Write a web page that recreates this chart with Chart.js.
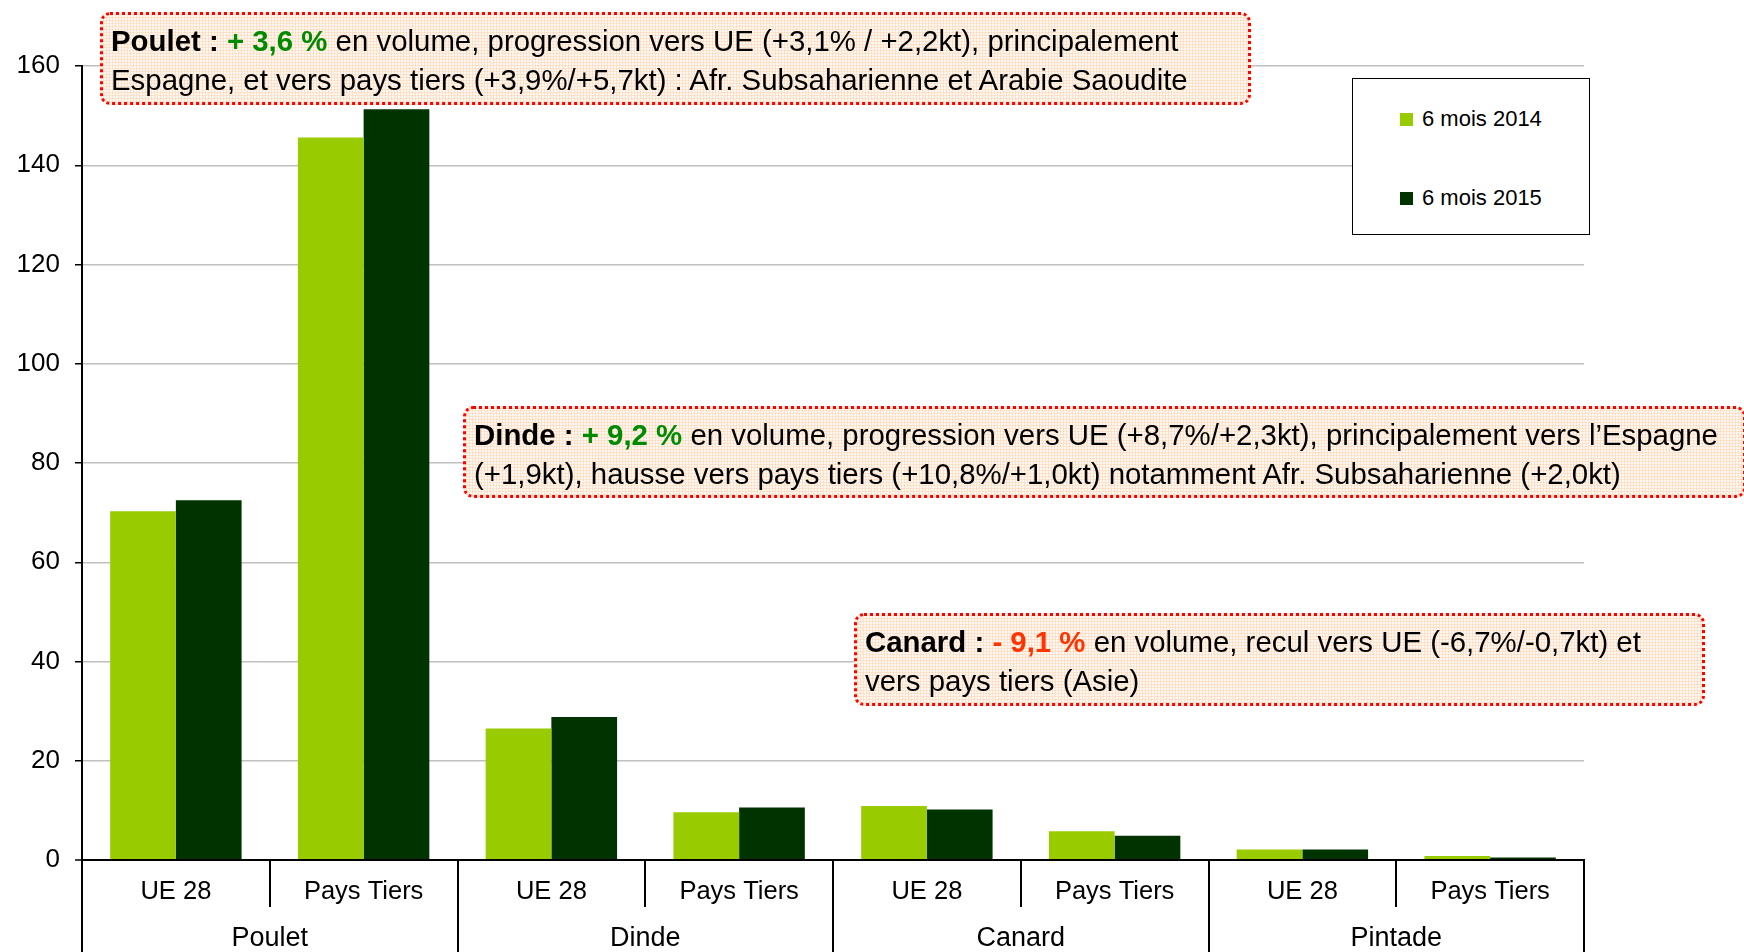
<!DOCTYPE html>
<html lang="fr">
<head>
<meta charset="utf-8">
<title>Exportations de volailles - 6 mois 2014 / 6 mois 2015</title>
<script src="https://cdn.jsdelivr.net/npm/chart.js@4.4.1/dist/chart.umd.min.js"></script>
<style>
  body { margin: 0; background: #fff; font-family: "Liberation Sans", Arial, sans-serif; }
  #wrap { position: relative; width: 1744px; height: 952px; overflow: hidden; }
  canvas { position: absolute; left: 0; top: 0; }
  .note {
    position: absolute;
    box-sizing: border-box;
    border: 3px dotted #ff0000;
    border-radius: 10px;
    background-color: #fff7ef;
    background-image:
      repeating-linear-gradient(0deg, rgba(248, 196, 150, 0.35) 0 1px, transparent 1px 3px),
      repeating-linear-gradient(90deg, rgba(248, 196, 150, 0.35) 0 1px, transparent 1px 3px);
    font-size: 29.4px;
    line-height: 39px;
    color: #000;
    white-space: nowrap;
    padding: 6px 8px;
  }
  .up { color: #008a00; font-weight: bold; }
  .down { color: #ff3300; font-weight: bold; }
  #legend {
    position: absolute;
    left: 1352px;
    top: 78px;
    width: 238px;
    height: 157px;
    box-sizing: border-box;
    border: 1.5px solid #000;
    background: #fff;
    font-size: 22px;
  }
  #legend .item { position: absolute; left: 47px; height: 24px; line-height: 24px; }
  #legend .swatch { display: inline-block; width: 13px; height: 13px; margin-right: 9px; vertical-align: 0; }
</style>
</head>
<body>
<div id="wrap">
  <canvas id="chart" width="1744" height="952"></canvas>

  <div class="note" style="left:100px; top:12px; width:1151px; height:93px;">
    <b>Poulet : </b><span class="up">+ 3,6 %</span> en volume, progression vers UE (+3,1% / +2,2kt), principalement<br>
    Espagne, et vers pays tiers (+3,9%/+5,7kt) : Afr. Subsaharienne et Arabie Saoudite
  </div>
  <div class="note" style="left:463px; top:406px; width:1283px; height:92px;">
    <b>Dinde : </b><span class="up">+ 9,2 %</span> en volume, progression vers UE (+8,7%/+2,3kt), principalement vers l’Espagne<br>
    (+1,9kt), hausse vers pays tiers (+10,8%/+1,0kt) notamment Afr. Subsaharienne (+2,0kt)
  </div>
  <div class="note" style="left:854px; top:613px; width:851px; height:93px;">
    <b>Canard : </b><span class="down">- 9,1 %</span> en volume, recul vers UE (-6,7%/-0,7kt) et<br>
    vers pays tiers (Asie)
  </div>

  <div id="legend"></div>
</div>

<script>
const categories = ["UE 28", "Pays Tiers", "UE 28", "Pays Tiers", "UE 28", "Pays Tiers", "UE 28", "Pays Tiers"];
const groups = ["Poulet", "Dinde", "Canard", "Pintade"];
const series2014 = [70.3, 145.6, 26.5, 9.6, 10.9, 5.8, 2.1, 0.8];
const series2015 = [72.5, 151.3, 28.8, 10.6, 10.2, 4.9, 2.1, 0.5];
const seriesLabels = ["6 mois 2014", "6 mois 2015"];
const seriesColors = ["#99cc00", "#003300"];

Chart.defaults.font.family = "'Liberation Sans', Arial, sans-serif";
Chart.defaults.color = "#000";

// vertical separators under the category axis: short ones inside a group,
// long ones between groups
const separatorPlugin = {
  id: "separators",
  afterDraw(chart) {
    const x = chart.scales.x;
    const ctx = chart.ctx;
    const bottom = chart.chartArea.bottom;
    ctx.save();
    ctx.strokeStyle = "#000";
    ctx.lineWidth = 2;
    for (let i = 0; i <= categories.length; i++) {
      const px = Math.round(x.getPixelForValue(i - 0.5));
      const end = i % 2 === 0 ? chart.height : bottom + 47;
      ctx.beginPath();
      ctx.moveTo(px, bottom);
      ctx.lineTo(px, end);
      ctx.stroke();
    }
    ctx.restore();
  },
};

const datasets = [series2014, series2015].map((data, index) => ({
  label: seriesLabels[index],
  data,
  backgroundColor: seriesColors[index],
  borderWidth: 0,
  categoryPercentage: 0.7,
  barPercentage: 1.0,
}));

new Chart(document.getElementById("chart").getContext("2d"), {
  type: "bar",
  data: { labels: categories, datasets },
  options: {
    responsive: false,
    animation: false,
    devicePixelRatio: 1,
    layout: { padding: { top: 66, right: 160, left: 0, bottom: 0 } },
    plugins: {
      legend: { display: false },
      tooltip: { enabled: false },
    },
    scales: {
      x: {
        offset: true,
        weight: 0,
        grid: { display: false, drawTicks: false },
        border: { color: "#000", width: 2 },
        ticks: {
          font: { size: 25.5 },
          padding: 17,
          maxRotation: 0,
          autoSkip: false,
        },
        afterFit: (scale) => {
          scale.height = 46;
        },
      },
      x2: {
        type: "category",
        labels: groups,
        position: "bottom",
        offset: true,
        weight: 1,
        grid: { display: false, drawTicks: false },
        border: { display: false },
        ticks: { font: { size: 27 }, padding: 16, maxRotation: 0 },
        afterFit: (scale) => {
          scale.height = 46;
        },
      },
      y: {
        min: 0,
        max: 160,
        ticks: { stepSize: 20, font: { size: 26 }, padding: 15 },
        grid: {
          color: (c) => (c.tick.value === 0 ? "#000" : "#c0c0c0"),
          lineWidth: (c) => (c.tick.value === 0 ? 2 : 1.5),
          tickColor: "#000",
          tickLength: 7,
          tickWidth: 1.5,
        },
        border: { color: "#000", width: 2 },
        afterFit: (scale) => {
          scale.width = 82;
        },
      },
    },
  },
  plugins: [separatorPlugin],
});

// legend box, built from the series
const legendElement = document.getElementById("legend");
const itemTops = [28, 107];
seriesLabels.forEach((label, index) => {
  const item = document.createElement("div");
  item.className = "item";
  item.style.top = itemTops[index] + "px";
  item.innerHTML = `<span class="swatch" style="background:${seriesColors[index]}"></span>${label}`;
  legendElement.appendChild(item);
});
</script>
</body>
</html>
